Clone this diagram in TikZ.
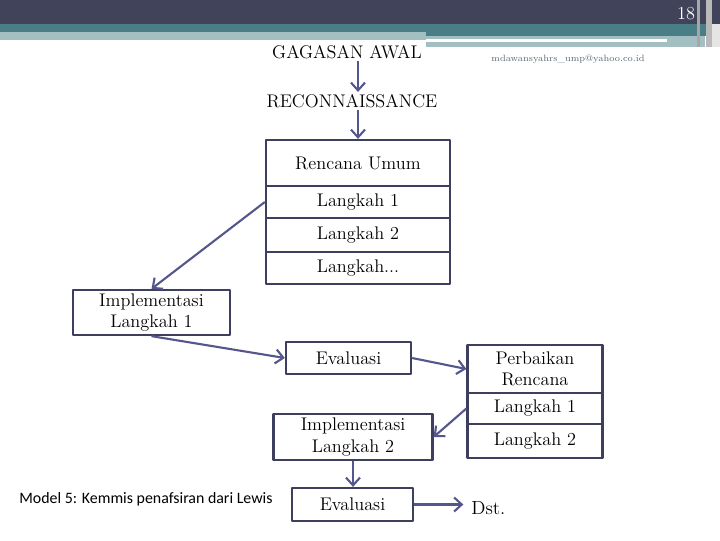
\documentclass[tikz,border=0pt]{standalone}
\usepackage{fontspec}
\newfontfamily\captionfont{Carlito}
\usetikzlibrary{arrows.meta}
\definecolor{boxline}{HTML}{3E3F5E}
\definecolor{arrowc}{HTML}{55568B}
\definecolor{banddark}{HTML}{41435A}
\definecolor{bandteal}{HTML}{4A7E86}
\definecolor{bandlight}{HTML}{A4BFC2}
\definecolor{mailc}{HTML}{5A6A72}

\begin{document}
\begin{tikzpicture}[x=0.025cm,y=-0.025cm,line join=round,
  font=\fontsize{13}{15}\selectfont,
  box/.style={draw=boxline,line width=1.6pt,fill=white,inner sep=0pt,align=center},
  conn/.style={arrowc,line width=1.5pt,-{Straight Barb[length=5.5pt,width=10pt]}},
  lab/.style={inner sep=1.5pt}]
  \path[use as bounding box] (0,0) rectangle (720,540);
  % header bands
  \fill[banddark] (0,0) rectangle (720,24);
  \fill[bandteal] (0,24) rectangle (720,32);
  \fill[bandteal] (426,32) rectangle (720,36);
  \fill[bandlight] (0,32) rectangle (426,40);
  \fill[bandlight] (426,36) rectangle (705,47);
  \fill[white] (426,38.7) rectangle (667,42);
  \fill[gray!70] (697,0) rectangle (700,47);
  \fill[gray!55] (706,0) rectangle (712,47);
  \fill[gray!20] (712,24) rectangle (720,47);
  \node[lab,white,font=\fontsize{13}{15}\selectfont] (pageno) at (686,14) {18};
  \node[lab,mailc,font=\fontsize{6.5}{8}\selectfont] (mail) at (568,59) {mdawansyahrs\_ump@yahoo.co.id};
  % flow
  \node[lab] (idea) at (347,52) {GAGASAN AWAL};
  \node[lab] (recon) at (352,101) {RECONNAISSANCE};
  \node[box,minimum width=4.6cm,minimum height=1.15cm] (plan) at (358,163) {Rencana Umum};
  \node[box,minimum width=4.6cm,minimum height=0.8cm] (ren1) at (358,202) {Langkah 1};
  \node[box,minimum width=4.6cm,minimum height=0.85cm] (ren2) at (358,235) {Langkah 2};
  \node[box,minimum width=4.6cm,minimum height=0.8cm] (ren3) at (358,268) {Langkah...};
  \node[box,minimum width=3.925cm,minimum height=1.125cm] (impl1) at (151.5,312.5) {Implementasi\\Langkah 1};
  \node[box,minimum width=3.125cm,minimum height=0.8cm] (eval1) at (348.5,358) {Evaluasi};
  \node[box,minimum width=3.375cm,minimum height=1.2cm] (perb) at (535,369) {Perbaikan\\Rencana};
  \node[box,minimum width=3.375cm,minimum height=0.775cm] (perb1) at (535,408.5) {Langkah 1};
  \node[box,minimum width=3.375cm,minimum height=0.85cm] (perb2) at (535,441) {Langkah 2};
  \node[box,minimum width=3.975cm,minimum height=1.15cm] (impl2) at (353,437) {Implementasi\\Langkah 2};
  \node[box,minimum width=3.025cm,minimum height=0.825cm] (eval2) at (352.5,504.5) {Evaluasi};
  \node[lab,anchor=west,font=\fontsize{13.5}{15}\selectfont] (dst) at (469,508) {Dst.};
  \draw[conn] (plan.north |- idea.south) -- (plan.north |- recon.north);
  \draw[conn] (plan.north |- recon.south) -- (plan.north);
  \draw[conn] (ren1.west) -- (impl1.north);
  \draw[conn] (impl1.south) -- (eval1.west);
  \draw[conn] (eval1.east) -- (perb.west);
  \draw[conn] (perb1.west) -- (impl2.east);
  \draw[conn] (impl2.south) -- (impl2.south |- eval2.north);
  \draw[conn,shorten >=4pt] (eval2.east) -- (eval2.east -| dst.west);
  \node[lab,anchor=west,font=\captionfont\fontsize{11.3}{13}\selectfont] (caption) at (17,499) {Model 5: Kemmis penafsiran dari Lewis};
\end{tikzpicture}
\end{document}
